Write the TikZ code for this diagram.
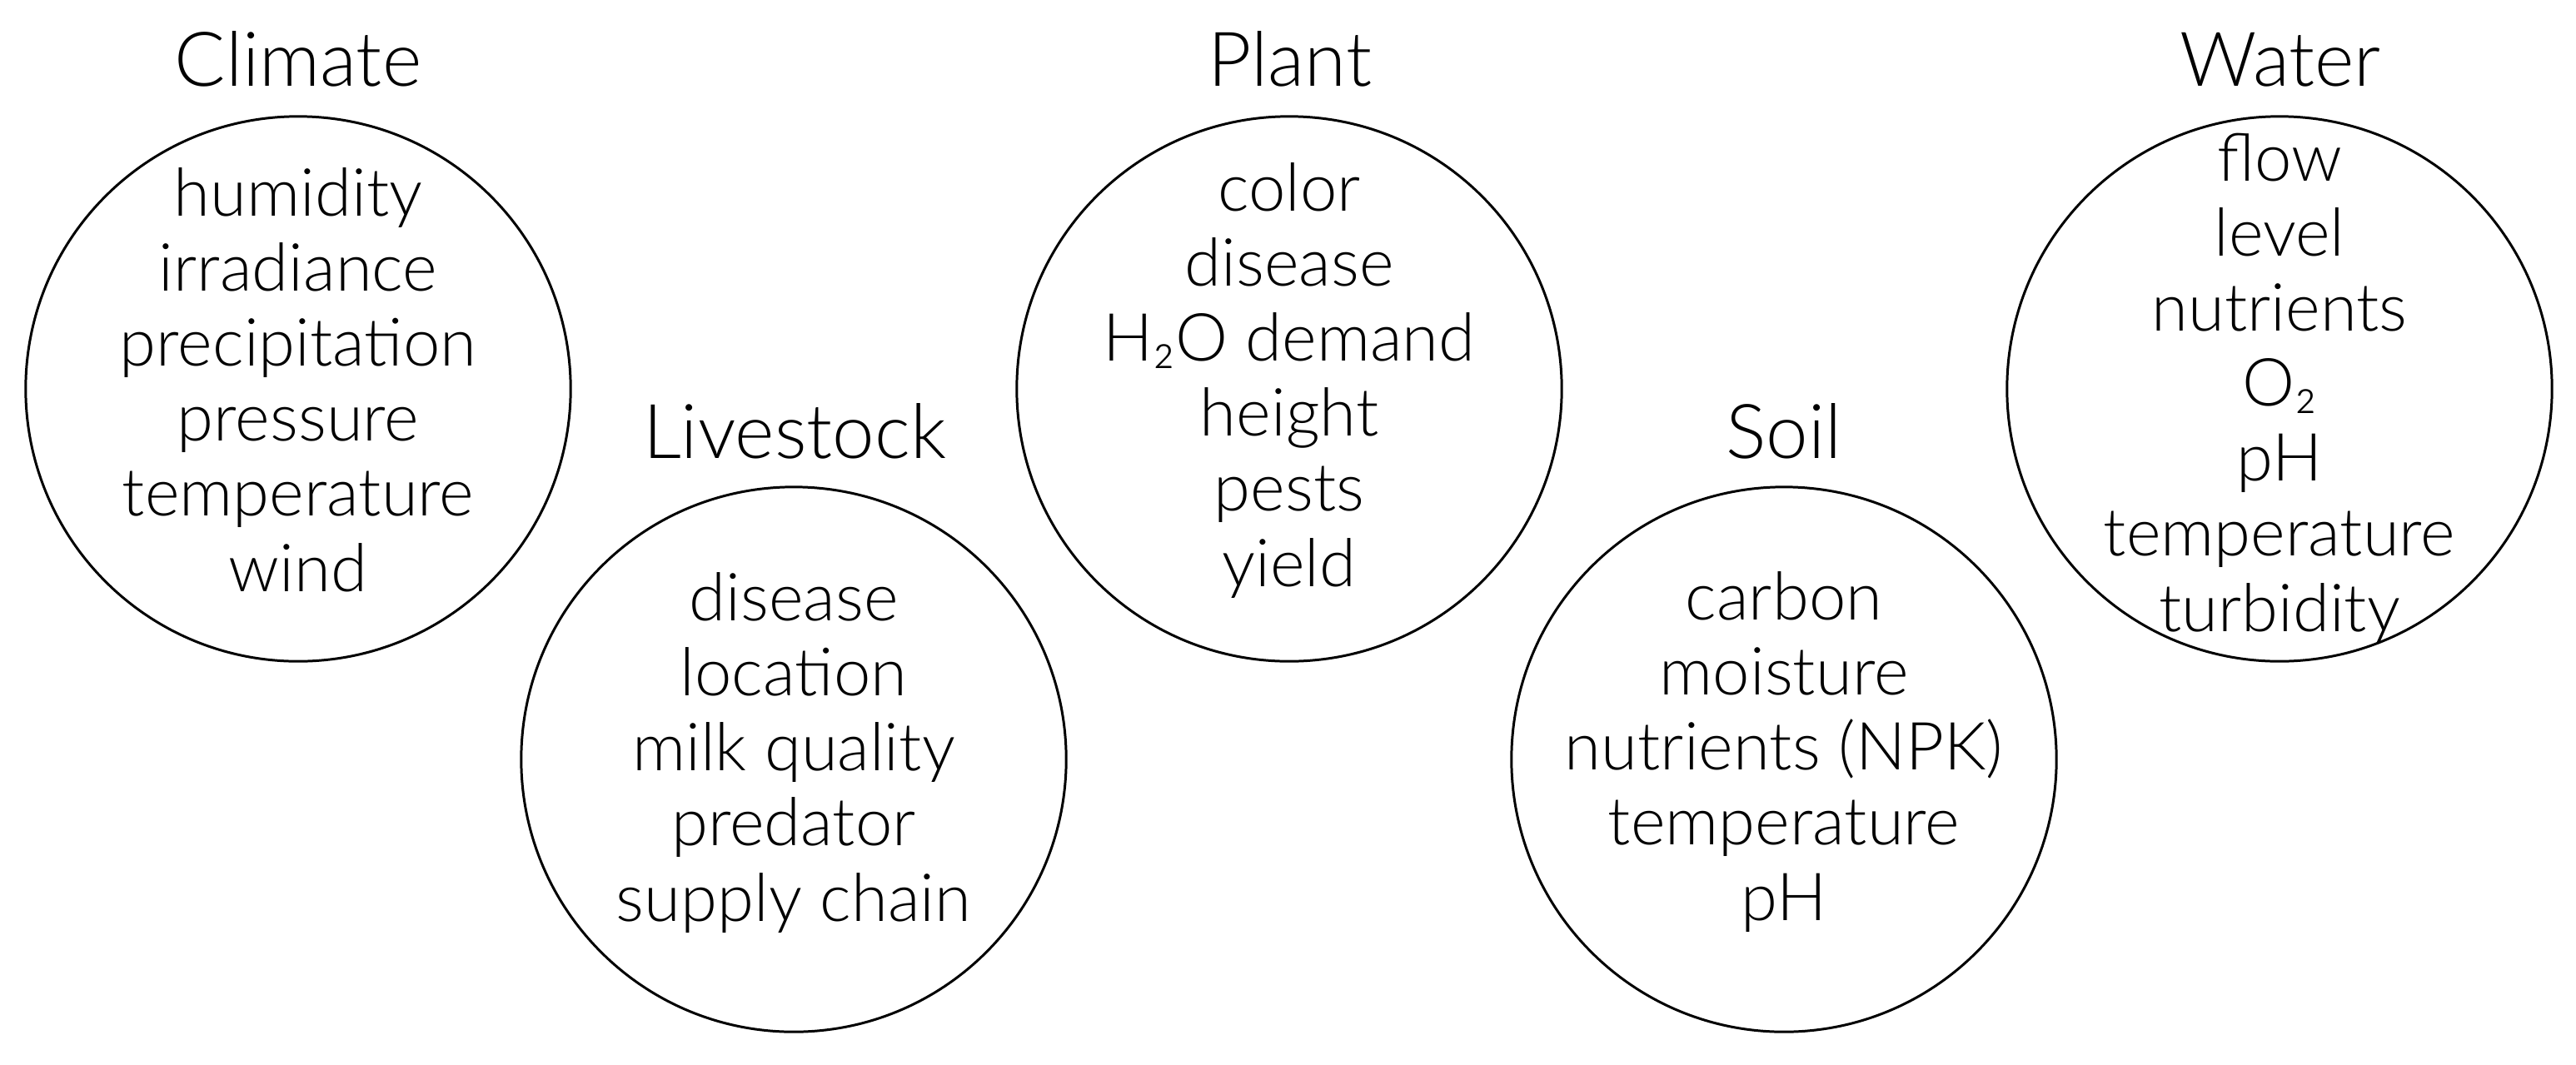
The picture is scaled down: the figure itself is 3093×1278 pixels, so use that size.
\documentclass[tikz,border=0pt]{standalone}
\usepackage{fontspec}
\setmainfont{Lato Light}
\begin{document}
\begin{tikzpicture}[x=0.01cm,y=-0.01cm,
  ring/.style={draw,circle,line width=0.85pt,minimum size=6.54cm,inner sep=0pt},
  title/.style={font=\fontsize{25.8pt}{30pt}\selectfont,anchor=base,inner sep=0pt},
  items/.style={font=\fontsize{22.65pt}{25.6pt}\selectfont,align=center,anchor=base,inner sep=0pt}]
\useasboundingbox (0,0) rectangle (3093,1278);
% circles
\node[ring] (climate) at (358,467) {};
\node[ring] (plant) at (1548,467) {};
\node[ring] (water) at (2737,467) {};
\node[ring] (livestock) at (953,912) {};
\node[ring] (soil) at (2142,912) {};
% titles
\node[title] (tclimate) at (358,103) {Climate};
\node[title] (tplant) at (1549,103) {Plant};
\node[title] (twater) at (2738,103) {Water};
\node[title] (tlivestock) at (954,550) {Livestock};
\node[title] (tsoil) at (2142,550) {Soil};
% items (anchor = baseline of the last line)
\node[items] (iclimate) at (358,710) {humidity\\irradiance\\precipitation\\pressure\\temperature\\wind};
\node[items] (iplant) at (1548,704) {color\\disease\\H₂O demand\\height\\pests\\yield};
\node[items] (iwater) at (2737,758) {flow\\level\\nutrients\\O₂\\pH\\temperature\\turbidity};
\node[items] (ilivestock) at (953,1106) {disease\\location\\milk quality\\predator\\supply chain};
\node[items] (isoil) at (2142,1105) {carbon\\moisture\\nutrients (NPK)\\temperature\\pH};
\end{tikzpicture}
\end{document}
